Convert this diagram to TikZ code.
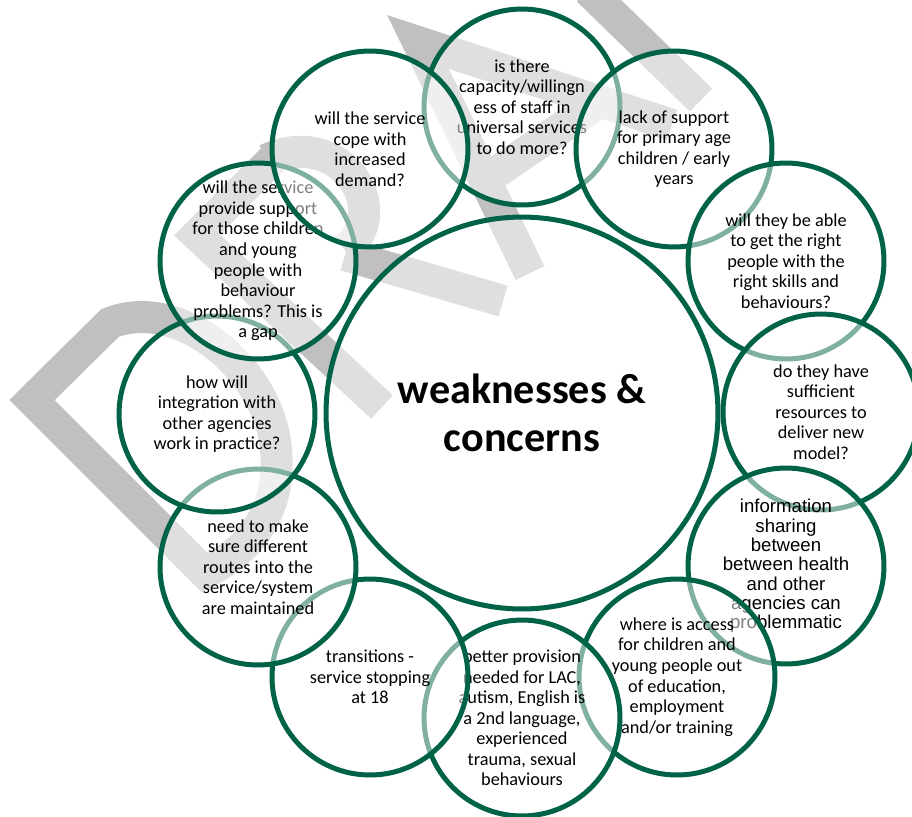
\documentclass[tikz,border=0pt]{standalone}
\usepackage{fontspec}
\setmainfont{Carlito}
\newfontfamily\arialfont{Liberation Sans}
\usetikzlibrary{positioning}

\definecolor{ringgreen}{RGB}{0,98,70}
\definecolor{markgray}{RGB}{192,192,192}

\tikzset{
  bubble/.style={circle, draw=ringgreen, line width=0.1cm, fill=white, fill opacity=0.5, text opacity=1, minimum size=3.92cm, inner sep=0pt},
  btext/.style={align=center, inner sep=0pt, text opacity=1, font=\fontsize{10.4}{11.7}\selectfont},
  wmband/.style={draw=markgray, line width=0.64cm},
}

\begin{document}
\begin{tikzpicture}[x=0.02cm, y=-0.02cm]
		\useasboundingbox (0,0) rectangle (912,816);
		% faint watermark letters behind the bubbles
		\draw[wmband, line join=miter] (32,400) -- (110,323) .. controls (180,295) and (270,370) .. (276,450) .. controls (282,510) and (250,550) .. (205,573) -- cycle;
		\draw[wmband] (382,407) -- (197,235) -- (272,160);
		\draw[wmband] (266,160) .. controls (340,125) and (395,210) .. (345,250);
		\draw[wmband] (345,255) -- (503,301);
		\draw[wmband] (530,273) -- (418,42) -- (672,125);
		\draw[wmband] (485,180) -- (595,105);
		\draw[wmband] (588,-10) -- (701,100);

		\node[bubble, minimum size=7.84cm, label={[name=core-t, btext, font=\fontsize{24}{27}\selectfont\bfseries]center:{weaknesses \&\\concerns}}] (core) at (522,413) {};

		\node[bubble, label={[name=cap-t, btext]center:{is there\\capacity/willingn\\ess of staff in\\universal services\\to do more?}}] (cap) at (522,107) {};
		\node[bubble, label={[name=lack-t, btext]center:{lack of support\\for primary age\\children / early\\years}}] (lack) at (674,149) {};
		\node[bubble, label={[name=able-t, btext]center:{will they be able\\to get the right\\people with the\\right skills and\\behaviours?}}] (able) at (786,261) {};
		\node[bubble, label={[name=res-t, btext]center:{do they have\\sufficient\\resources to\\deliver new\\model?}}] (res) at (821,412) {};
		\node[bubble, label={[name=info-t, btext, font=\arialfont\fontsize{10.6}{11}\selectfont]center:{information\\sharing\\between\\between health\\and other\\agencies can\\problemmatic}}] (info) at (786,566) {};
		\node[bubble, label={[name=access-t, btext]center:{where is access\\for children and\\young people out\\of education,\\employment\\and/or training}}] (access) at (677,677) {};
		\node[bubble, label={[name=better-t, btext]center:{better provision\\needed for LAC,\\autism, English is\\a 2nd language,\\experienced\\trauma, sexual\\behaviours}}] (better) at (522,718) {};
		\node[bubble, label={[name=trans-t, btext]center:{transitions -\\service stopping\\at 18}}] (trans) at (370,677) {};
		\node[bubble, label={[name=routes-t, btext]center:{need to make\\sure different\\routes into the\\service/system\\are maintained}}] (routes) at (258,567) {};
		\node[bubble, label={[name=integ-t, btext]center:{how will\\integration with\\other agencies\\work in practice?}}] (integ) at (217,414) {};
		\node[bubble, label={[name=gap-t, btext]center:{will the service\\provide support\\for those children\\and young\\people with\\behaviour\\problems? This is\\a gap}}] (gap) at (258,261) {};
		\node[bubble, label={[name=cope-t, btext]center:{will the service\\cope with\\increased\\demand?}}] (cope) at (370,149) {};
\end{tikzpicture}
\end{document}
